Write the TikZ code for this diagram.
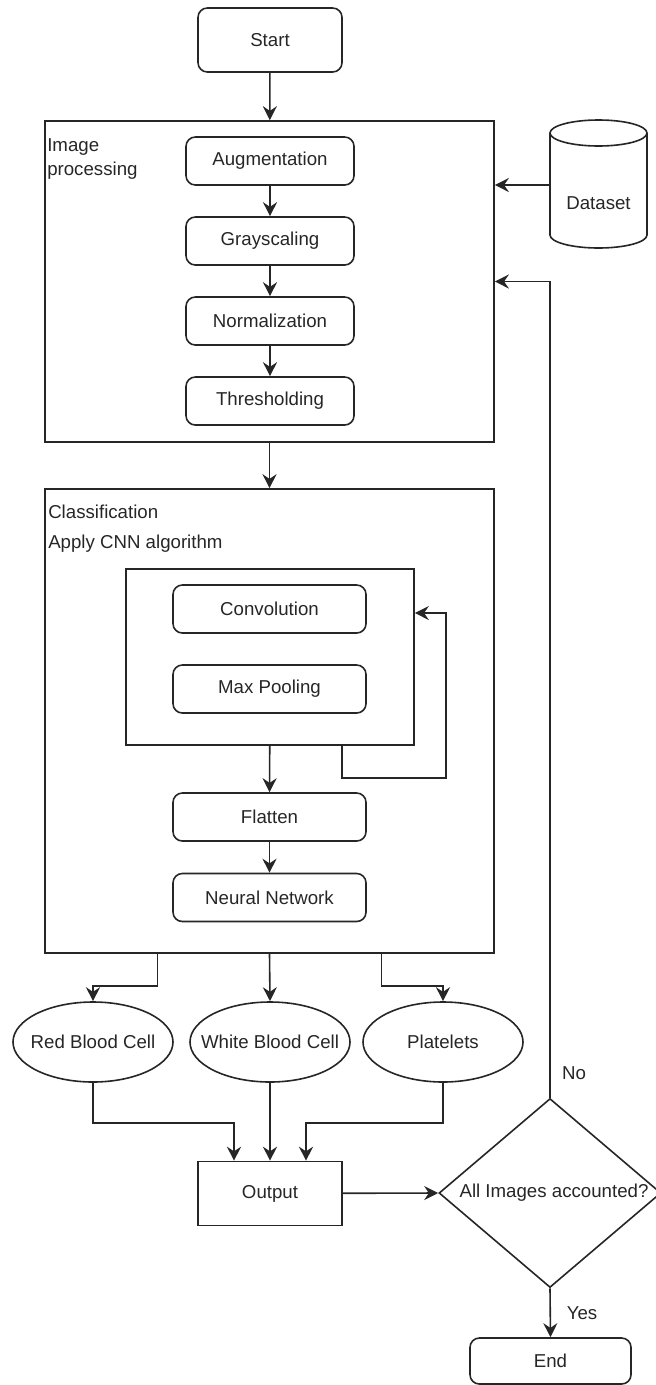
\documentclass[tikz,border=0pt]{standalone}
\usepackage{fontspec}
\setmainfont{Liberation Sans}
\usetikzlibrary{shapes.geometric,arrows.meta}

\begin{document}
\begin{tikzpicture}[x=0.75pt,y=0.75pt,yscale=-1,xscale=1,
    every node/.style={font=\fontsize{14}{18}\selectfont, text=black!85},
    line/.style={draw=black!85, line width=1.2pt},
    arr/.style={line, -{Stealth[length=10.5pt,width=10.5pt,inset=3.5pt]}},
    rbox/.style={line, rounded corners=7pt, minimum width=126pt, minimum height=36pt, inner sep=0pt},
    sqbox/.style={line, minimum width=108pt, minimum height=48pt, inner sep=0pt},
    frame/.style={line, inner sep=0pt},
    cell/.style={line, ellipse, minimum width=120pt, minimum height=60pt, inner sep=0pt},
    decision/.style={line, diamond, minimum width=166.5pt, minimum height=141.75pt, inner sep=0pt}
  ]
    \useasboundingbox (0,0) rectangle (656,1385);

    % Start
    \node [rbox, minimum width=108pt, minimum height=48pt] (start) at (270,40) {Start};

    % Image processing frame
    \node [frame, minimum width=336.75pt, minimum height=240.75pt] (imgproc) at (269.5,281.5) {};
    % Text Node
    \node [anchor=north west, align=left, inner sep=0pt] (iplbl) at (47,138) {Image\\processing};

    \node [rbox] (aug) at (270,161) {Augmentation};
    \node [rbox] (gray) at (270,241) {Grayscaling};
    \node [rbox] (norm) at (270,321) {Normalization};
    \node [rbox] (thr) at (270,401) {Thresholding};

    % Dataset cylinder
    \draw [line, fill=white] (550,133) -- (550,235) arc [start angle=180, end angle=0, x radius=48.5, y radius=13] -- (647,133);
    \draw [line] (598.5,133) ellipse [x radius=48.5, y radius=13];
    \node (dataset) at (598.5,203) {Dataset};
    \coordinate (dsW) at (550,185);

    % Classification frame
    \node [frame, minimum width=336.75pt, minimum height=348pt] (cls) at (269.5,721) {};
    % Text Node
    \node [anchor=west, inner sep=0pt] (clslbl) at (48,512) {Classification};
    % Text Node
    \node [anchor=west, inner sep=0pt] (cnnlbl) at (48,544) {Apply CNN algorithm};

    % CNN block
    \node [frame, minimum width=216pt, minimum height=132pt] (cnn) at (270,657) {};
    \node [rbox, minimum width=144.75pt] (conv) at (269.5,609) {Convolution};
    \node [rbox, minimum width=144.75pt] (pool) at (269.5,689) {Max Pooling};
    \node [rbox, minimum width=144.75pt] (flat) at (269.5,817) {Flatten};
    \node [rbox, minimum width=144.75pt] (nn) at (269.5,897.5) {Neural Network};

    % Classes
    \node [cell, label=center:Red Blood Cell] (rbc) at (93,1042) {};
    \node [cell, label=center:White Blood Cell] (wbc) at (270,1042) {};
    \node [cell, label=center:Platelets] (plt) at (443,1042) {};

    \node [sqbox] (out) at (270,1193.5) {Output};
    \node [decision, label={[xshift=3pt]center:All Images accounted?}] (chk) at (550,1193) {};
    \node [rbox, minimum width=120.75pt, minimum height=34.5pt] (stop) at (550.5,1361) {End};

    % Text Node
    \node (no) at (574,1073) {No};
    % Text Node
    \node (yes) at (582,1313) {Yes};

    % Connectors
    \draw [arr] (start) -- (imgproc);
    \draw [arr] (aug) -- (gray);
    \draw [arr] (gray) -- (norm);
    \draw [arr] (norm) -- (thr);
    \draw [arr] (dsW) -- (imgproc.east |- dsW);
    \draw [arr] (imgproc) -- (cls);
    \draw [arr] (cnn) -- (flat);
    \draw [arr] ([xshift=54pt]cnn.south) -- ++(0,32) -- ++(104,0) |- ([yshift=-33pt]cnn.east);
    \draw [arr] (flat) -- (nn);
    \draw [arr] ([xshift=-84pt]cls.south) -- ++(0,32) -| (rbc.north);
    \draw [arr] (cls.south) -- (wbc.north);
    \draw [arr] ([xshift=84pt]cls.south) -- ++(0,32) -| (plt.north);
    \draw [arr] (rbc.south) -- ++(0,40) -| ([xshift=-27pt]out.north);
    \draw [arr] (wbc.south) -- (out.north);
    \draw [arr] (plt.south) -- ++(0,40) -| ([xshift=27pt]out.north);
    \draw [arr] (out) -- (chk.west);
    \draw [arr] (chk.north) |- (imgproc.east);
    \draw [arr] (chk.south) -- (stop.north);
\end{tikzpicture}
\end{document}
